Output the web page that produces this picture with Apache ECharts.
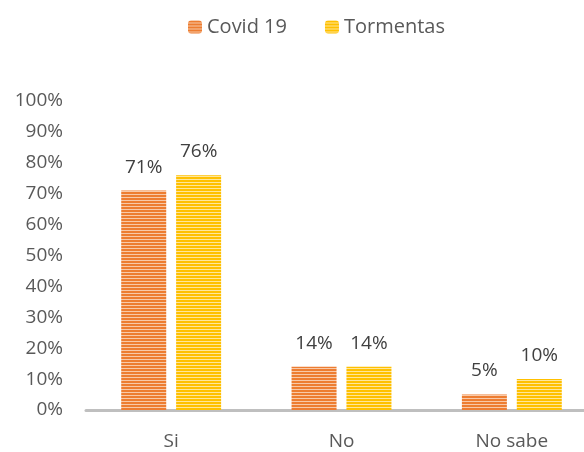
<!DOCTYPE html>
<html>
<head>
<meta charset="UTF-8" />
<title>Covid 19 / Tormentas</title>
<style>
    html, body { margin: 0; padding: 0; background: #fff; }
    #container { width: 584px; height: 452px; }
</style>
</head>
<body>
<div id="container"></div>
<script src="https://cdn.jsdelivr.net/npm/echarts@6/dist/echarts.min.js"></script>
<script type="text/javascript">
    // datos
    var categorias = ['Si', 'No', 'No sabe'];
    var covid = [71, 14, 5];
    var tormentas = [76, 14, 10];
    var ticksY = [0, 10, 20, 30, 40, 50, 60, 70, 80, 90, 100];

    // relleno con rayas horizontales
    function rayas(color, claro) {
        var c = document.createElement('canvas');
        c.width = 4;
        c.height = 3;
        var ctx = c.getContext('2d');
        ctx.fillStyle = color;
        ctx.fillRect(0, 0, 4, 2);
        ctx.fillStyle = claro;
        ctx.fillRect(0, 2, 4, 1);
        return { image: c, repeat: 'repeat' };
    }

    var fuente = 'Open Sans, Liberation Sans, sans-serif';
    var tam = 19;
    var myChart = echarts.init(document.getElementById('container'));

    var etiqueta = {
        show: true, position: 'top', distance: 14,
        color: '#404040', fontSize: tam, fontFamily: fuente,
        formatter: '{c}%'
    };

    var option = {
        animation: false,
        legend: {
            top: 12,
            left: 183,
            itemWidth: 14,
            itemHeight: 13,
            itemGap: 38,
            textStyle: { color: '#595959', fontSize: 20, fontFamily: fuente },
            data: ['Covid 19', 'Tormentas']
        },
        grid: {
            left: 86,
            top: 101,
            width: 511,
            bottom: 42,
            outerBoundsMode: 'none'
        },
        xAxis: {
            type: 'category',
            data: categorias,
            axisLine: { lineStyle: { color: '#BFBFBF', width: 3 } },
            axisTick: { show: false },
            axisLabel: { color: '#595959', fontSize: tam, fontFamily: fuente, margin: 22 }
        },
        yAxis: {
            type: 'value',
            min: ticksY[0],
            max: ticksY[ticksY.length - 1],
            interval: 10,
            splitLine: { show: false },
            axisLine: { show: false },
            axisTick: { show: false },
            axisLabel: {
                color: '#595959', fontSize: tam, fontFamily: fuente, margin: 23,
                formatter: '{value}%'
            }
        },
        series: [
            {
                name: 'Covid 19',
                type: 'bar',
                barWidth: 45,
                barGap: '22%',
                data: covid,
                itemStyle: { color: rayas('#ED7D31', '#F8C9A8') },
                label: etiqueta
            },
            {
                name: 'Tormentas',
                type: 'bar',
                barWidth: 45,
                data: tormentas,
                itemStyle: { color: rayas('#FFC000', '#FFE699') },
                label: etiqueta
            }
        ]
    };

    myChart.setOption(option, true);
</script>
</body>
</html>
